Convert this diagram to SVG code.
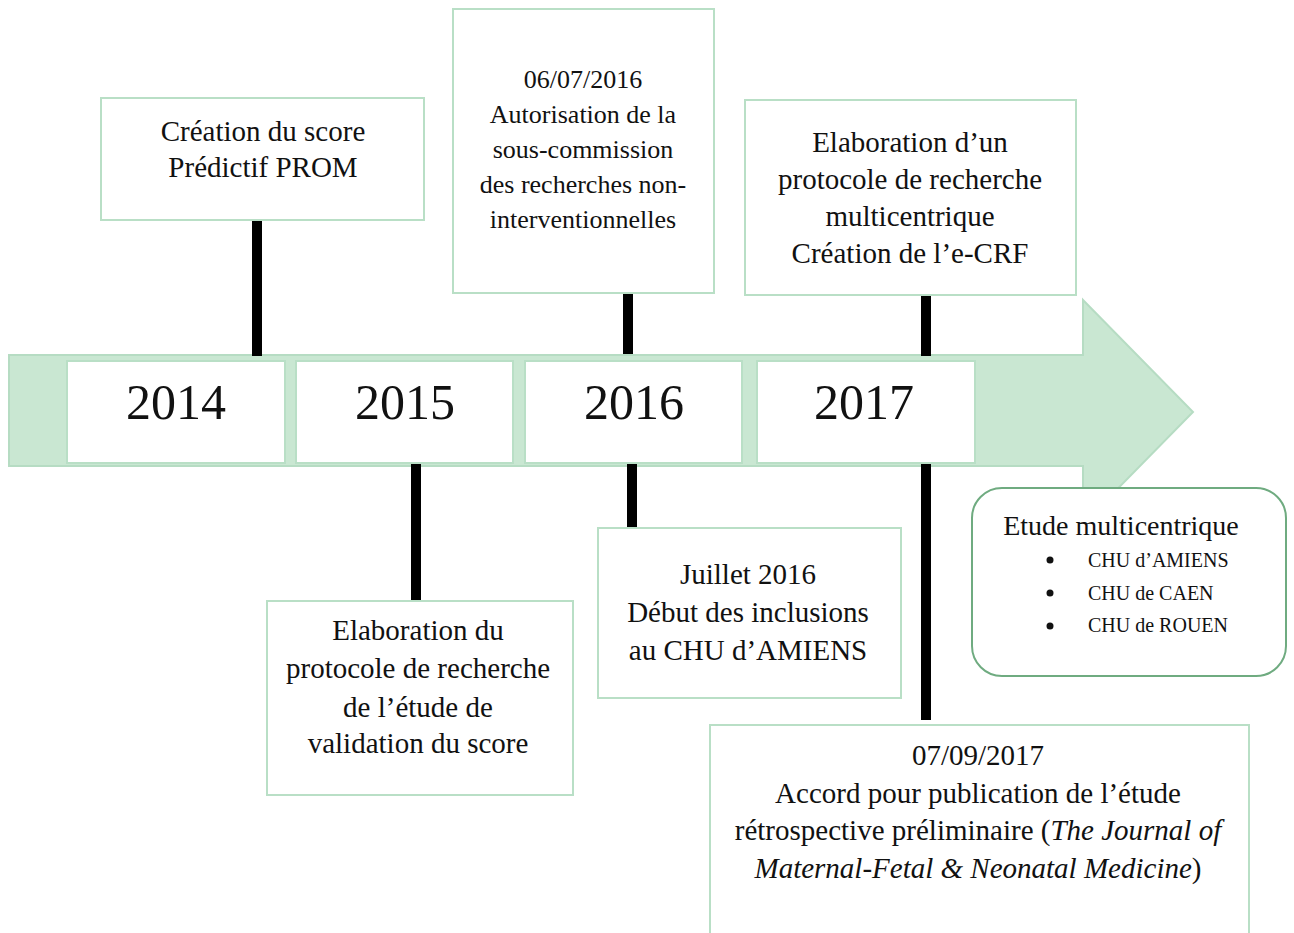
<svg xmlns="http://www.w3.org/2000/svg" width="1294" height="933" viewBox="0 0 1294 933">
<style>
.box{fill:#fff;stroke:#b9dfc6;stroke-width:2}
.yr{fill:#fff;stroke:#b9dfc6;stroke-width:2}
.t{font-family:"Liberation Serif","Times New Roman",serif;font-size:29px;fill:#111;text-anchor:middle}
.ts{font-size:26px}
.y{font-family:"Liberation Serif","Times New Roman",serif;font-size:50px;fill:#111;text-anchor:middle}
.c{stroke:#000;stroke-width:10;fill:none}
.li{font-family:"Liberation Serif","Times New Roman",serif;font-size:20px;fill:#111}
</style>
<rect width="1294" height="933" fill="#fff"/>
<g id="arrow">
<polygon points="9,355 1083,355 1083,300 1193,412 1083,524 1083,466 9,466" fill="#c9e7d2" stroke="#b6dcc3" stroke-width="2"/>
</g>
<g id="connectors">
<line class="c" x1="257" y1="220" x2="257" y2="356"/>
<line class="c" x1="628" y1="292" x2="628" y2="354"/>
<line class="c" x1="926" y1="295" x2="926" y2="356"/>
<line class="c" x1="416" y1="464" x2="416" y2="601"/>
<line class="c" x1="632" y1="464" x2="632" y2="528"/>
<line class="c" x1="926" y1="464" x2="926" y2="720"/>
</g>
<g id="y2014"><rect class="yr" x="67" y="361" width="218" height="102"/><text class="y" x="176" y="419">2014</text></g>
<g id="y2015"><rect class="yr" x="296" y="361" width="217" height="102"/><text class="y" x="405" y="419">2015</text></g>
<g id="y2016"><rect class="yr" x="525" y="361" width="217" height="102"/><text class="y" x="634" y="419">2016</text></g>
<g id="y2017"><rect class="yr" x="757" y="361" width="218" height="102"/><text class="y" x="864" y="419">2017</text></g>
<g id="n-creation">
<rect class="box" x="101" y="98" width="323" height="122"/>
<text class="t" x="263" y="141">Création du score</text>
<text class="t" x="263" y="177">Prédictif PROM</text>
</g>
<g id="n-autorisation">
<rect class="box" x="453" y="9" width="261" height="284"/>
<text class="t ts" x="583" y="88">06/07/2016</text>
<text class="t ts" x="583" y="123">Autorisation de la</text>
<text class="t ts" x="583" y="158">sous-commission</text>
<text class="t ts" x="583" y="193">des recherches non-</text>
<text class="t ts" x="583" y="228">interventionnelles</text>
</g>
<g id="n-multicentrique">
<rect class="box" x="745" y="100" width="331" height="195"/>
<text class="t" x="910" y="152">Elaboration d’un</text>
<text class="t" x="910" y="189">protocole de recherche</text>
<text class="t" x="910" y="226">multicentrique</text>
<text class="t" x="910" y="263">Création de l’e-CRF</text>
</g>
<g id="n-protocole">
<rect class="box" x="267" y="601" width="306" height="194"/>
<text class="t" x="418" y="640">Elaboration du</text>
<text class="t" x="418" y="678">protocole de recherche</text>
<text class="t" x="418" y="717">de l’étude de</text>
<text class="t" x="418" y="753">validation du score</text>
</g>
<g id="n-juillet">
<rect class="box" x="598" y="528" width="303" height="170"/>
<text class="t" x="748" y="584">Juillet 2016</text>
<text class="t" x="748" y="622">Début des inclusions</text>
<text class="t" x="748" y="660">au CHU d’AMIENS</text>
</g>
<g id="n-publication">
<rect class="box" x="710" y="725" width="539" height="220"/>
<text class="t" x="978" y="765">07/09/2017</text>
<text class="t" x="978" y="803">Accord pour publication de l’étude</text>
<text class="t" x="978" y="840">rétrospective préliminaire (<tspan font-style="italic">The Journal of</tspan></text>
<text class="t" x="978" y="878"><tspan font-style="italic">Maternal-Fetal &amp; Neonatal Medicine</tspan>)</text>
</g>
<g id="n-etude">
<rect x="972" y="488" width="314" height="188" rx="30" ry="30" fill="#fff" stroke="#6fab80" stroke-width="2"/>
<text x="1121" y="535" font-family="'Liberation Serif','Times New Roman',serif" font-size="28" fill="#111" text-anchor="middle">Etude multicentrique</text>
<circle cx="1050" cy="560" r="3.5" fill="#111"/>
<circle cx="1050" cy="593" r="3.5" fill="#111"/>
<circle cx="1050" cy="626" r="3.5" fill="#111"/>
<text class="li" x="1088" y="567">CHU d’AMIENS</text>
<text class="li" x="1088" y="600">CHU de CAEN</text>
<text class="li" x="1088" y="632">CHU de ROUEN</text>
</g>
</svg>
